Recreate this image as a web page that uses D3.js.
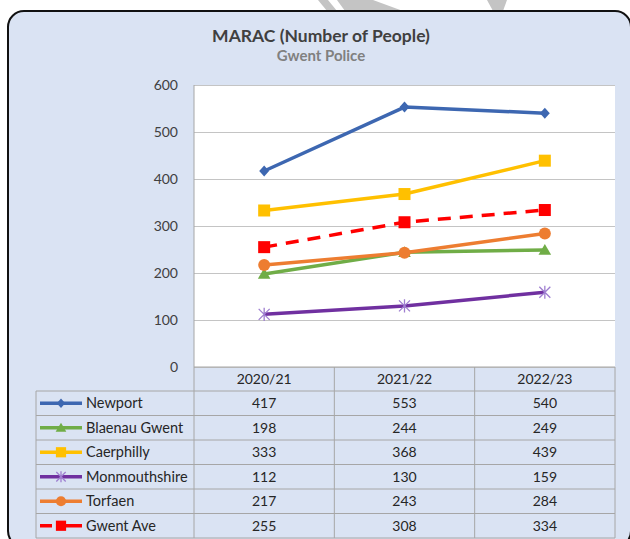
<!DOCTYPE html>
<html>
<head>
<meta charset="utf-8">
<script src="https://cdn.jsdelivr.net/npm/d3@7"></script>
<style>
  body { margin: 0; background: #fff; }
  svg { display: block; }
  text { font-family: Lato, "Open Sans", sans-serif; }
</style>
</head>
<body>
<script>
const years = ["2020/21", "2021/22", "2022/23"];
const newport = [417, 553, 540];
const blaenauGwent = [198, 244, 249];
const caerphilly = [333, 368, 439];
const monmouthshire = [112, 130, 159];
const torfaen = [217, 243, 284];
const gwentAve = [255, 308, 334];
const yTicks = [0, 100, 200, 300, 400, 500, 600];

const series = [
  { name: "Newport", values: newport, color: "#3d67b1", marker: "diamond" },
  { name: "Blaenau Gwent", values: blaenauGwent, color: "#70ad47", marker: "triangle" },
  { name: "Caerphilly", values: caerphilly, color: "#ffc000", marker: "square" },
  { name: "Monmouthshire", values: monmouthshire, color: "#7030a0", marker: "star" },
  { name: "Torfaen", values: torfaen, color: "#ed7d31", marker: "circle" },
  { name: "Gwent Ave", values: gwentAve, color: "#ff0000", marker: "square", dashed: true }
];

const W = 630, H = 539;
const plot = { left: 194, right: 615, top: 85, bottom: 367 };
const tableLeft = 36, tableBottom = 538;

const svg = d3.select("body").append("svg")
  .attr("width", W)
  .attr("height", H);

// watermark bits above the frame
const wm = [
  [[318, 0], [328, 0], [337, 11], [327, 11]],
  [[337, 0], [373, 0], [403, 11], [345, 11]],
  [[487, 0], [507, 0], [503, 11], [493, 11]]
];
svg.selectAll("polygon.wm")
  .data(wm)
  .enter()
  .append("polygon")
  .attr("class", "wm")
  .attr("points", d => d.join(" "))
  .attr("fill", "#c4c4c4");

// outer frame
svg.append("rect")
  .attr("x", 8)
  .attr("y", 11)
  .attr("width", 623)
  .attr("height", 536)
  .attr("rx", 16)
  .attr("fill", "#dae3f3")
  .attr("stroke", "#111")
  .attr("stroke-width", 2);

// title
svg.append("text")
  .attr("x", 321)
  .attr("y", 42)
  .attr("text-anchor", "middle")
  .attr("font-size", 17.5)
  .attr("font-weight", "bold")
  .attr("fill", "#404040")
  .text("MARAC (Number of People)");

svg.append("text")
  .attr("x", 321)
  .attr("y", 61)
  .attr("text-anchor", "middle")
  .attr("font-size", 15)
  .attr("font-weight", "bold")
  .attr("fill", "#808080")
  .text("Gwent Police");

const x = d3.scaleBand()
  .domain(years)
  .range([plot.left, plot.right]);
const xc = d => x(d) + x.bandwidth() / 2;

const y = d3.scaleLinear()
  .domain([0, 600])
  .range([plot.bottom, plot.top]);

// plot area
svg.append("rect")
  .attr("x", plot.left)
  .attr("y", plot.top)
  .attr("width", plot.right - plot.left)
  .attr("height", plot.bottom - plot.top)
  .attr("fill", "#fff");

const yAxis = svg.append("g")
  .attr("transform", `translate(${plot.left},0)`)
  .call(d3.axisLeft(y)
    .tickValues(yTicks)
    .tickSize(-(plot.right - plot.left))
    .tickPadding(16));
yAxis.select(".domain").remove();
yAxis.selectAll("line").attr("stroke", "#c4c4c4");
yAxis.selectAll("text")
  .attr("font-size", 14)
  .attr("fill", "#404040")
  .style("font-family", "Lato, sans-serif");

// data table
const rows = d3.scaleBand()
  .domain(series.map(s => s.name))
  .range([391, tableBottom]);

const tableLine = "#a6a6a6";
const tg = svg.append("g");

// horizontal lines
tg.append("line")
  .attr("x1", plot.left).attr("x2", plot.right)
  .attr("y1", plot.bottom).attr("y2", plot.bottom)
  .attr("stroke", tableLine);
tg.selectAll("line.row")
  .data(series)
  .enter()
  .append("line")
  .attr("class", "row")
  .attr("x1", tableLeft).attr("x2", plot.right)
  .attr("y1", d => rows(d.name)).attr("y2", d => rows(d.name))
  .attr("stroke", tableLine);
tg.append("line")
  .attr("x1", tableLeft).attr("x2", plot.right)
  .attr("y1", tableBottom).attr("y2", tableBottom)
  .attr("stroke", tableLine);

// vertical lines
tg.selectAll("line.col")
  .data(years)
  .enter()
  .append("line")
  .attr("class", "col")
  .attr("x1", d => x(d)).attr("x2", d => x(d))
  .attr("y1", d => d === years[0] ? plot.top : plot.bottom)
  .attr("y2", tableBottom)
  .attr("stroke", tableLine);
tg.append("line")
  .attr("x1", plot.right).attr("x2", plot.right)
  .attr("y1", plot.bottom).attr("y2", tableBottom)
  .attr("stroke", tableLine);
tg.append("line")
  .attr("x1", tableLeft).attr("x2", tableLeft)
  .attr("y1", rows(series[0].name)).attr("y2", tableBottom)
  .attr("stroke", tableLine);

// column headers
tg.selectAll("text.head")
  .data(years)
  .enter()
  .append("text")
  .attr("class", "head")
  .attr("x", xc)
  .attr("y", (plot.bottom + 391) / 2)
  .attr("dy", "0.36em")
  .attr("text-anchor", "middle")
  .attr("font-size", 14)
  .attr("fill", "#262626")
  .text(d => d);

// markers
function marker(sel, type, color, r) {
  if (type === "circle") {
    sel.append("circle").attr("r", r).attr("fill", color);
  } else if (type === "square") {
    sel.append("rect")
      .attr("x", -r).attr("y", -r)
      .attr("width", 2 * r).attr("height", 2 * r)
      .attr("fill", color);
  } else if (type === "diamond") {
    sel.append("path")
      .attr("d", `M0,${-r}L${r * 0.9},0L0,${r}L${-r * 0.9},0Z`)
      .attr("fill", color);
  } else if (type === "triangle") {
    sel.append("path")
      .attr("d", `M0,${-r}L${r * 1.05},${r * 0.8}L${-r * 1.05},${r * 0.8}Z`)
      .attr("fill", color);
  } else if (type === "star") {
    sel.append("path")
      .attr("d", `M${-r},${-r}L${r},${r}M${-r},${r}L${r},${-r}M0,${-r * 1.2}L0,${r * 1.2}`)
      .attr("stroke", "#9f7fd0")
      .attr("stroke-width", 1.3)
      .attr("fill", "none");
  }
}
const markerSize = { diamond: 5.5, triangle: 6, square: 6, star: 5.5, circle: 6 };

// row labels with legend keys and values
series.forEach(s => {
  const cy = rows(s.name) + rows.bandwidth() / 2;
  const key = tg.append("g");
  key.append("line")
    .attr("x1", 40).attr("x2", 82)
    .attr("y1", cy).attr("y2", cy)
    .attr("stroke", s.color)
    .attr("stroke-width", 3.5)
    .attr("stroke-dasharray", s.dashed ? "12,6,30" : null);
  key.append("g")
    .attr("transform", `translate(61,${cy})`)
    .call(marker, s.marker, s.color, markerSize[s.marker] * 0.85);
  tg.append("text")
    .attr("x", 86)
    .attr("y", cy)
    .attr("dy", "0.36em")
    .attr("font-size", 14.5)
    .attr("fill", "#262626")
    .text(s.name);
  tg.selectAll(null)
    .data(s.values)
    .enter()
    .append("text")
    .attr("x", (d, i) => xc(years[i]))
    .attr("y", cy)
    .attr("dy", "0.36em")
    .attr("text-anchor", "middle")
    .attr("font-size", 14)
    .attr("fill", "#262626")
    .text(d => d);
});

// lines
const line = d3.line()
  .x((d, i) => xc(years[i]))
  .y(d => y(d));

const lg = svg.append("g");
series.forEach(s => {
  lg.append("path")
    .datum(s.values)
    .attr("d", line)
    .attr("fill", "none")
    .attr("stroke", s.color)
    .attr("stroke-width", 3.5)
    .attr("stroke-linejoin", "round")
    .attr("stroke-dasharray", s.dashed ? "13,9" : null);
});
series.forEach(s => {
  lg.selectAll(null)
    .data(s.values)
    .enter()
    .append("g")
    .attr("transform", (d, i) => `translate(${xc(years[i])},${y(d)})`)
    .each(function () {
      marker(d3.select(this), s.marker, s.color, markerSize[s.marker]);
    });
});
</script>
</body>
</html>
